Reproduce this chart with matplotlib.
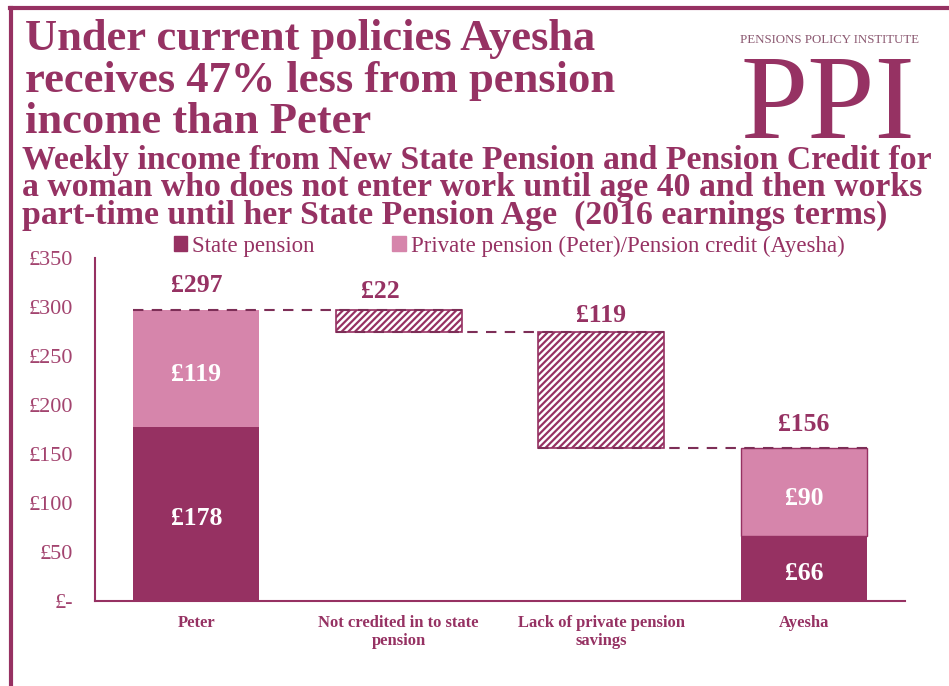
import numpy as np
import matplotlib.pyplot as plt
from matplotlib.patches import Patch
from matplotlib.lines import Line2D

plt.rcParams['font.family'] = ['Liberation Serif', 'DejaVu Serif']
plt.rcParams['hatch.linewidth'] = 1.6

# data
categories = ['Peter', 'Not credited in to state\npension', 'Lack of private pension\nsavings', 'Ayesha']
state_pension = [178, 0, 0, 66]
private_pension = [119, 0, 0, 90]   # Private pension (Peter) / Pension credit (Ayesha)
reductions = [0, 22, 119, 0]
yticks = [0, 50, 100, 150, 200, 250, 300, 350]
ytick_labels = ['£-', '£50', '£100', '£150', '£200', '£250', '£300', '£350']

dark = '#963162'
light = '#d685ab'
txt = '#963263'
line_col = '#7d2e57'

fig = plt.figure(figsize=(9.49, 6.86), dpi=100)
ax = fig.add_axes([95/949, 1-601/686, 810/949, 343/686])

x = np.arange(len(categories))
w = 0.62

totals = [s + p for s, p in zip(state_pension, private_pension)]

# stacked bars for Peter and Ayesha
for i in [0, 3]:
    ax.bar(x[i], state_pension[i], w, color=dark, edgecolor=dark, linewidth=0)
    ax.bar(x[i], private_pension[i], w, bottom=state_pension[i], color=light, edgecolor=dark, linewidth=0)
    ax.text(x[i], state_pension[i] / 2 - 5, '£%d' % state_pension[i], ha='center', va='center',
            color='white', fontsize=18.5, fontweight='bold')
    ax.text(x[i], state_pension[i] + private_pension[i] / 2 - 6, '£%d' % private_pension[i],
            ha='center', va='center', color='white', fontsize=18.5, fontweight='bold')
# thin outline on Ayesha's top segment
ax.bar(x[3], private_pension[3], w, bottom=state_pension[3], color='none', edgecolor=dark, linewidth=1)

# waterfall reductions
level = totals[0]
levels = [level]
for i in [1, 2]:
    bottom = level - reductions[i]
    ax.bar(x[i], reductions[i], w, bottom=bottom, color='white', edgecolor=dark,
           hatch='/////', linewidth=1.2)
    level = bottom
    levels.append(level)

# connectors
for i, lv in enumerate(levels):
    ax.plot([x[i] - w/2, x[i+1] + w/2], [lv, lv], color=line_col, lw=1.5,
            linestyle=(0, (5, 4)), zorder=3)

# value labels above
lab = dict(ha='center', va='bottom', color=txt, fontsize=18.5, fontweight='bold')
ax.text(x[0], totals[0] + 13, '£%d' % totals[0], **lab)
ax.text(x[1] - 0.09, totals[0] + 7, '£%d' % reductions[1], **lab)
ax.text(x[2], levels[1] + 5, '£%d' % reductions[2], **lab)
ax.text(x[3], totals[3] + 12, '£%d' % totals[3], **lab)

ax.set_xlim(-0.5, 3.5)
ax.set_ylim(0, 350)
ax.set_yticks(yticks)
ax.set_yticklabels(ytick_labels, color='#a3446f', fontsize=16)
ax.set_xticks(x)
ax.set_xticklabels(categories, color=txt, fontsize=12, fontweight='bold', linespacing=1.2)
ax.tick_params(axis='y', length=0, pad=16)
ax.tick_params(axis='x', length=0, pad=10)
for s in ['top', 'right']:
    ax.spines[s].set_visible(False)
for s in ['left', 'bottom']:
    ax.spines[s].set_color(dark)
    ax.spines[s].set_linewidth(1.5)

handles = [Patch(color=dark, label='State pension'),
           Patch(color=light, label='Private pension (Peter)/Pension credit (Ayesha)')]
fig.legend(handles=handles, loc='center', bbox_to_anchor=(509/949, 1-246/686), ncol=2,
           frameon=False, fontsize=16.5, labelcolor=txt, handlelength=0.6, handleheight=0.6,
           handletextpad=0.2, columnspacing=3.4)

# titles
fig.text(25/949, 1-19/686, 'Under current policies Ayesha\nreceives 47% less from pension\nincome than Peter',
         ha='left', va='top', color=txt, fontsize=32, fontweight='bold', linespacing=1.05)
fig.text(22/949, 1-188/686,
         'Weekly income from New State Pension and Pension Credit for\n'
         'a woman who does not enter work until age 40 and then works\n'
         'part-time until her State Pension Age  (2016 earnings terms)',
         ha='left', va='center', color=txt, fontsize=24.3, fontweight='bold', linespacing=0.83)

# logo
fig.text(829/949, 1-40/686, 'PENSIONS POLICY INSTITUTE', ha='center', va='center',
         color='#8c5a72', fontsize=9.3)
fig.text(828/949, 1-138/686, 'PPI', ha='center', va='baseline', color=txt, fontsize=87)

# slide frame
fig.add_artist(Line2D([10/949, 1], [1-8/686, 1-8/686], color=dark, lw=3))
fig.add_artist(Line2D([11/949, 11/949], [0, 1-8/686], color=dark, lw=3))

fig.savefig('out.png', dpi=100)
